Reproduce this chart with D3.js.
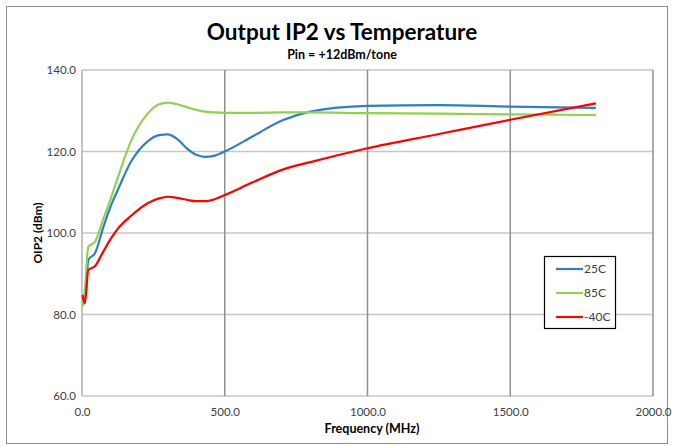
<!DOCTYPE html>
<html>
<head>
<meta charset="utf-8">
<script src="https://cdn.jsdelivr.net/npm/d3@7"></script>
<style>
  body { margin: 0; background: #fff; }
  text { font-family: Lato, "Open Sans", sans-serif; }
</style>
</head>
<body>
<div id="chart"></div>
<script>
// frequency points (MHz), shared by all series
var freq = [2, 10, 22, 46, 75, 100, 125, 170, 230, 270, 300, 335, 370, 400, 430, 465, 500, 600, 700, 800, 1000, 1250, 1500, 1800];

var oip2_25C = [84, 83, 93.4, 95.1, 101.5, 106.5, 110.5, 117.3, 122.5, 124.0, 124.2, 123.0, 120.6, 119.2, 118.7, 119.0, 120.0, 123.8, 127.6, 129.8, 131.2, 131.4, 131.0, 130.7];
var oip2_85C = [82, 86, 96.6, 97.9, 103.5, 108.3, 113.5, 122.3, 129.3, 131.6, 132.0, 131.6, 130.8, 130.2, 129.8, 129.6, 129.5, 129.5, 129.6, 129.6, 129.4, 129.3, 129.1, 128.95];
var oip2_m40C = [84.8, 82.7, 90.9, 91.9, 95.5, 98.5, 101, 104.1, 107.3, 108.5, 108.9, 108.6, 108.1, 107.8, 107.8, 108.3, 109.3, 112.5, 115.5, 117.4, 120.8, 124.3, 127.8, 131.8];

var seriesNames = ["25C", "85C", "-40C"];
var seriesColors = ["#2f7fc1", "#92d050", "#ff0000"];

var xTicks = [0, 500, 1000, 1500, 2000];
var yTicks = [60, 80, 100, 120, 140];

var width = 673, height = 446;

var svg = d3.select("#chart").append("svg").attr("width", width).attr("height", height);

// outer chart border
svg.append("rect").attr("x", 6.5).attr("y", 6.5).attr("width", 661).attr("height", 437)
    .attr("fill", "#fff").attr("stroke", "#8c8c8c").attr("stroke-width", 1);

var x = d3.scaleLinear().domain([0, 2000]).range([82, 653]);
var y = d3.scaleLinear().domain([60, 140]).range([396, 70]);

// horizontal grid
svg.append("g").selectAll("line").data(yTicks).enter().append("line")
    .attr("x1", x(0)).attr("x2", x(2000))
    .attr("y1", function (d) { return y(d); }).attr("y2", function (d) { return y(d); })
    .attr("stroke", "#c6c6c6").attr("stroke-width", 1.3);

// vertical grid
svg.append("g").selectAll("line").data(xTicks).enter().append("line")
    .attr("x1", function (d) { return x(d); }).attr("x2", function (d) { return x(d); })
    .attr("y1", y(60)).attr("y2", y(140))
    .attr("stroke", function (d) { return d == 0 ? "#b0b0b0" : "#8f8f8f"; })
    .attr("stroke-width", 1.5);

// axes (labels only, lines drawn by grid)
var xAxis = svg.append("g").attr("transform", "translate(0," + y(60) + ")")
    .call(d3.axisBottom(x).tickValues(xTicks).tickFormat(d3.format(".1f")).tickSize(0).tickPadding(12));
var yAxis = svg.append("g").attr("transform", "translate(" + x(0) + ",0)")
    .call(d3.axisLeft(y).tickValues(yTicks).tickFormat(d3.format(".1f")).tickSize(0).tickPadding(6));
[xAxis, yAxis].forEach(function (a) {
    a.select(".domain").remove();
    a.selectAll("text").attr("font-size", 11.5).attr("fill", "#404040")
        .attr("font-family", "Lato, sans-serif");
});

// lines
var allSeries = [oip2_25C, oip2_85C, oip2_m40C];
var line = d3.line()
    .x(function (d, i) { return x(freq[i]); })
    .y(function (d) { return y(d); })
    .curve(d3.curveMonotoneX);

svg.append("g").selectAll("path").data(allSeries).enter().append("path")
    .attr("d", line)
    .attr("fill", "none")
    .attr("stroke", function (d, i) { return seriesColors[i]; })
    .attr("stroke-width", 2.2);

// titles
svg.append("text").attr("x", 342).attr("y", 40).attr("text-anchor", "middle")
    .attr("font-size", 22.5).attr("font-weight", "bold").attr("fill", "#000")
    .text("Output IP2 vs Temperature");
svg.append("text").attr("x", 342).attr("y", 59).attr("text-anchor", "middle")
    .attr("font-size", 12.5).attr("font-weight", "bold").attr("fill", "#000")
    .text("Pin = +12dBm/tone");
svg.append("text").attr("x", 372).attr("y", 433).attr("text-anchor", "middle")
    .attr("font-size", 12.5).attr("font-weight", "bold").attr("fill", "#000")
    .text("Frequency (MHz)");
svg.append("text").attr("transform", "translate(42,233) rotate(-90)").attr("text-anchor", "middle")
    .attr("font-size", 12).attr("font-weight", "bold").attr("fill", "#000")
    .text("OIP2 (dBm)");

// legend
var legend = svg.append("g").attr("transform", "translate(544,256)");
legend.append("rect").attr("x", 0.5).attr("y", 0.5).attr("width", 71).attr("height", 72)
    .attr("fill", "#fff").attr("stroke", "#000").attr("stroke-width", 1.2);
var item = legend.selectAll("g.item").data(seriesNames).enter().append("g")
    .attr("class", "item")
    .attr("transform", function (d, i) { return "translate(0," + (13 + i * 24) + ")"; });
item.append("line").attr("x1", 12).attr("x2", 39).attr("y1", 0).attr("y2", 0)
    .attr("stroke", function (d, i) { return seriesColors[i]; }).attr("stroke-width", 2.2);
item.append("text").attr("x", 40).attr("y", 4).attr("font-size", 12).attr("fill", "#404040")
    .text(function (d) { return d; });
</script>
</body>
</html>
